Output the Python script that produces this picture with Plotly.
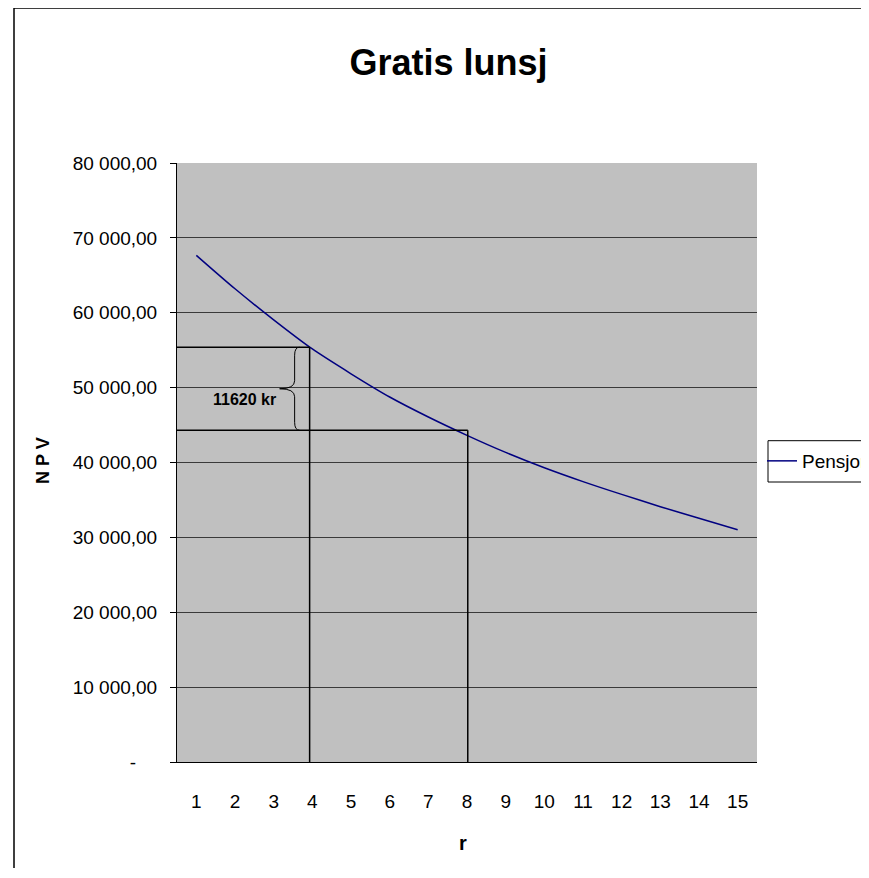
import plotly.graph_objects as go

# ---- data ----
r_values = list(range(1, 16))
npv_values = [67670, 63200, 59050, 55160, 51850, 48750, 46080, 43630,
              41350, 39300, 37450, 35740, 34100, 32550, 31030]
series_name = "Pensjon"

y_tickvals = [0, 10000, 20000, 30000, 40000, 50000, 60000, 70000, 80000]
y_ticktext = ["-\u00a0\u00a0\u00a0\u00a0", "10 000,00", "20 000,00", "30 000,00", "40 000,00",
              "50 000,00", "60 000,00", "70 000,00", "80 000,00"]

# guide lines drawn on the chart
guide_r = [3.93, 8.02]
guide_npv = [55400, 44300]
guide_label = "11620 kr"

FONT = "Liberation Sans, Arial, sans-serif"

OFF = 8  # page body margin
W, H = 869 - OFF, 878 - 2 * OFF - 2
ML, MT = 169, 155
PW, PH = 580, 599
MR = W - ML - PW
MB = H - MT - PH


def px_x(p):
    return (p - OFF - ML) / PW


def px_y(p):
    return (H - MB - (p - OFF)) / PH


fig = go.Figure()
fig.add_trace(go.Scatter(
    x=r_values, y=npv_values, mode="lines", name=series_name,
    line=dict(color="#000080", width=1.5, shape="spline", smoothing=0.8),
))

shapes = []
x_left = 0.5
for gr, gv in zip(guide_r, guide_npv):
    shapes.append(dict(type="line", xref="x", yref="y", x0=gr, x1=gr, y0=0, y1=gv,
                       line=dict(color="black", width=1.5)))
    shapes.append(dict(type="line", xref="x", yref="y", x0=x_left, x1=gr, y0=gv, y1=gv,
                       line=dict(color="black", width=1.5)))

# curly brace between the two guide levels, left of the first vertical guide
xs = (r_values[-1] - r_values[0] + 1) / PW  # data units per pixel along x
ys = (y_tickvals[-1] - y_tickvals[0]) / PH  # data units per pixel along y
top, bot = guide_npv
mid = (top + bot) / 2
xe = guide_r[0] - 10 * xs
xi = xe - 5 * xs
xp = xe - 20 * xs
d = 4 * ys
path = (f"M {xe},{top} Q {xi},{top} {xi},{top - 2*d} "
        f"L {xi},{mid + 2*d} Q {xi},{mid} {xp},{mid} "
        f"Q {xi},{mid} {xi},{mid - 2*d} "
        f"L {xi},{bot + 2*d} Q {xi},{bot} {xe},{bot}")
shapes.append(dict(type="path", xref="x", yref="y", path=path,
                   line=dict(color="black", width=1)))

# outer chart border (left and top edges only; the rest lies beyond the window)
bx0, by0, bx1, by1 = px_x(14), px_y(8), px_x(960), px_y(960)
shapes.append(dict(type="path", xref="paper", yref="paper",
                   path=f"M {bx0},{by1} L {bx0},{by0} L {bx1},{by0}",
                   line=dict(color="black", width=1.5), layer="below"))
# legend frame (right side lies beyond the window)
lx0, lx1, ly0, ly1 = px_x(768), px_x(960), px_y(440.7), px_y(482)
shapes.append(dict(type="path", xref="paper", yref="paper",
                   path=f"M {lx1},{ly0} L {lx0},{ly0} L {lx0},{ly1} L {lx1},{ly1}",
                   line=dict(color="black", width=1), fillcolor="white", layer="below"))

annotations = [
    dict(text=guide_label, xref="x", yref="y", x=xp - 2 * xs, y=mid, yshift=-11,
         xanchor="right", yanchor="middle", showarrow=False,
         font=dict(family=FONT, size=16, color="black", weight="bold")),
    dict(text="N P V", xref="paper", yref="paper", x=px_x(43), y=px_y(461),
         xanchor="center", yanchor="middle", textangle=-90, showarrow=False,
         font=dict(family=FONT, size=18, color="black", weight="bold")),
    dict(text="r", xref="paper", yref="paper", x=px_x(463), y=px_y(843),
         xanchor="center", yanchor="middle", showarrow=False,
         font=dict(family=FONT, size=20, color="black", weight="bold")),
]

fig.update_layout(
    width=W, height=H,
    margin=dict(l=ML, r=MR, t=MT, b=MB, pad=0, autoexpand=False),
    paper_bgcolor="white",
    plot_bgcolor="#C0C0C0",
    title=dict(text="Gratis lunsj", xref="paper", x=px_x(448.5), xanchor="center",
               yref="container", y=1 - (62 - OFF) / H, yanchor="middle",
               font=dict(family=FONT, size=36, color="black", weight="bold")),
    showlegend=True,
    legend=dict(x=px_x(762), y=px_y(461), xanchor="left", yanchor="middle",
                bgcolor="rgba(0,0,0,0)", borderwidth=0,
                font=dict(family=FONT, size=19, color="black"),
                itemwidth=30, tracegroupgap=0),
    shapes=shapes,
    annotations=annotations,
    font=dict(family=FONT, size=19, color="black"),
)

fig.update_xaxes(range=[0.5, 15.5], tickvals=r_values, ticktext=[str(v) for v in r_values],
                 showgrid=False, zeroline=False, showline=True, linecolor="black", linewidth=1,
                 ticks="", ticklabelstandoff=22,
                 tickfont=dict(family=FONT, size=19, color="black"))
fig.update_yaxes(range=[0, 80000], tickvals=y_tickvals, ticktext=y_ticktext,
                 showgrid=True, gridcolor="#3a3a3a", gridwidth=1, zeroline=False,
                 showline=True, linecolor="black", linewidth=1,
                 ticks="outside", ticklen=6, tickcolor="black", ticklabelstandoff=9,
                 tickfont=dict(family=FONT, size=19, color="black"))

fig.write_html("out.html")
